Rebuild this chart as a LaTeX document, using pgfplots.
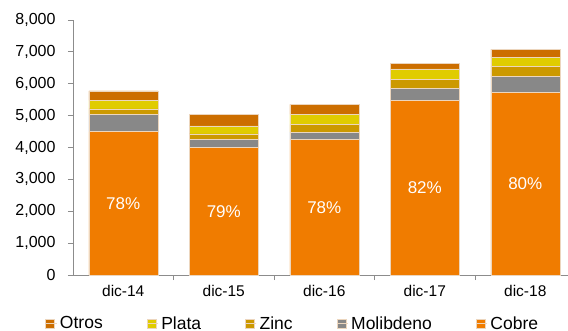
\documentclass[border=0pt]{standalone}
\usepackage{pgfplots}
\usepackage{pgfplotstable}
\usepackage{fontspec}
\setmainfont{Liberation Sans}
\pgfplotsset{compat=1.18}

\definecolor{cobre}{RGB}{240,124,0}
\definecolor{moli}{RGB}{136,136,136}
\definecolor{zinc}{RGB}{204,153,0}
\definecolor{plata}{RGB}{224,204,0}
\definecolor{otros}{RGB}{204,110,0}
\definecolor{axisgray}{RGB}{140,140,140}
\definecolor{edge}{RGB}{236,214,190}

% Production by metal (stacked), one row per year-end
\pgfplotstableread{
x cobre moli zinc plata otros label
0 4500 540 175 265 300 78\%
1 3995 250 180 250 367 79\%
2 4245 241 242 314 313 78\%
3 5481 364 304 314 188 82\%
4 5719 502 314 304 242 80\%
}\datatable

\pgfplotsset{
  common/.style={
    scale only axis,
    width=495bp, height=255bp,
    xmin=-0.5, xmax=4.425,
    ymin=0, ymax=8000,
    at={(0,0)}, anchor=south west,
  },
}

\begin{document}
\begin{tikzpicture}
\path[use as bounding box] (-73bp,-56bp) rectangle (495bp,275bp);
\begin{axis}[
  common,
  ybar stacked,
  bar width=69bp,
  axis x line*=bottom,
  axis y line*=left,
  axis line style={axisgray, line width=0.8bp},
  xtick={0,1,2,3,4},
  xticklabels={dic-14,dic-15,dic-16,dic-17,dic-18},
  major x tick style={draw=none},
  minor xtick={0.5,1.5,2.5,3.5},
  minor x tick style={axisgray, line width=0.8bp},
  minor tick length=5bp,
  ytick={0,1000,...,8000},
  y tick style={axisgray, line width=0.8bp},
  major tick length=5bp,
  tick align=outside,
  /pgf/number format/fixed,
  /pgf/number format/1000 sep={,},
  /pgf/number format/assume math mode=true,
  y tick label style={font=\fontsize{16bp}{18bp}\selectfont, xshift=-9bp},
  x tick label style={font=\fontsize{15.5bp}{18bp}\selectfont, yshift=-2bp},
  clip=false,
  reverse legend,
  legend style={
    at={(0.444,-0.19)}, anchor=center,
    draw=none, fill=none,
    legend columns=-1,
    font=\fontsize{17.5bp}{20bp}\selectfont,
    /tikz/every odd column/.style={column sep=1bp},
    /tikz/every even column/.style={column sep=42bp},
  },
  legend image code/.code={\fill[#1] (0bp,-4.5bp) rectangle (9bp,4.5bp);
                           \path (0bp,0bp) -- (11bp,0bp);},
]
\addplot[fill=cobre, draw=edge, line width=0.5bp] table[x=x, y=cobre] {\datatable};
\addlegendentry{Cobre}
\addplot[fill=moli, draw=edge, line width=0.5bp] table[x=x, y=moli] {\datatable};
\addlegendentry{Molibdeno}
\addplot[fill=zinc, draw=edge, line width=0.5bp] table[x=x, y=zinc] {\datatable};
\addlegendentry{Zinc}
\addplot[fill=plata, draw=edge, line width=0.5bp] table[x=x, y=plata] {\datatable};
\addlegendentry{Plata}
\addplot[fill=otros, draw=edge, line width=0.5bp] table[x=x, y=otros] {\datatable};
\addlegendentry{Otros}
\end{axis}
% Copper share, centred in each copper segment
\begin{axis}[
  common,
  hide axis,
  clip=false,
]
\addplot[only marks, mark=none,
  nodes near coords,
  point meta=explicit symbolic,
  every node near coord/.style={anchor=center, text=white,
    font=\fontsize{17bp}{19bp}\selectfont},
] table[x=x, y expr=\thisrow{cobre}/2, meta=label] {\datatable};
\end{axis}
\end{tikzpicture}
\end{document}
